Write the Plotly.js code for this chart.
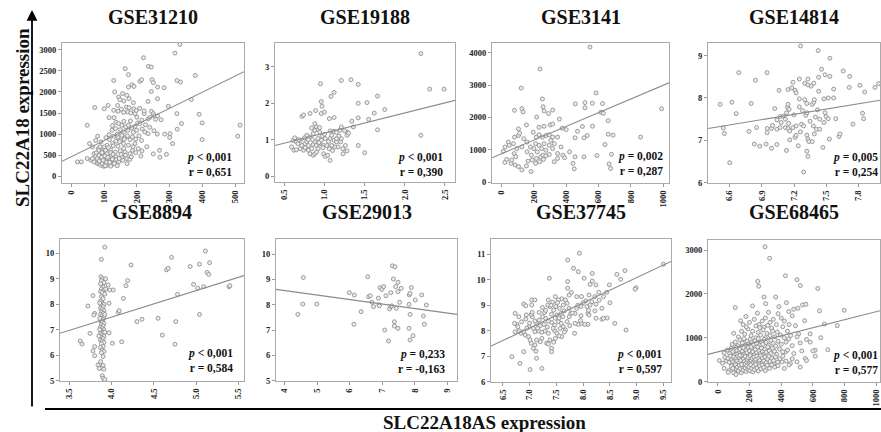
<!DOCTYPE html>
<html><head><meta charset="utf-8">
<script src="https://cdn.plot.ly/plotly-3.0.1.min.js"></script>
<style>html,body{margin:0;padding:0;background:#fff;}#chart{width:881px;height:432px;}</style>
</head><body><div id="chart"></div>
<script>
// ---------------- DATA ----------------
const panelNames = ["GSE31210","GSE19188","GSE3141","GSE14814","GSE8894","GSE29013","GSE37745","GSE68465"];
const pLabels = ["&lt; 0,001","&lt; 0,001","= 0,002","= 0,005","&lt; 0,001","= 0,233","&lt; 0,001","&lt; 0,001"];
const rLabels = ["r = 0,651","r = 0,390","r = 0,287","r = 0,254","r = 0,584","r = -0,163","r = 0,597","r = 0,577"];
const fitIntercept = [466, 0.627, 876, 4.625, 3.334, 9.274, 1.195, 677];
const fitSlope = [3.82, 0.554, 2.12, 0.415, 1.04, -0.178, 0.988, 0.917];
const xTickLabels = [
 ["0","100","200","300","400","500"],
 ["0.5","1.0","1.5","2.0","2.5"],
 ["0","200","400","600","800","1000"],
 ["6.6","6.9","7.2","7.5","7.8"],
 ["3.5","4.0","4.5","5.0","5.5"],
 ["4","5","6","7","8","9"],
 ["6.5","7.0","7.5","8.0","8.5","9.0","9.5"],
 ["0","200","400","600","800","1000"]];
const yTickLabels = [
 ["0","500","1000","1500","2000","2500","3000"],
 ["0","1","2","3"],
 ["0","1000","2000","3000","4000"],
 ["6","7","8","9"],
 ["5","6","7","8","9","10"],
 ["5","6","7","8","9","10"],
 ["6","7","8","9","10","11"],
 ["0","1000","2000","3000"]];

const GSE31210 = [[18,340],[30,340],[48,420],[48,1210],[55,775],[59,380],[64,420],[64,695],[69,340],[69,535],[71,1630],[74,475],[74,850],[76,555],[79,300],[79,420],[80,950],[82,655],[84,315],[84,495],[84,615],[89,260],[89,395],[90,815],[94,300],[94,600],[96,520],[99,235],[99,440],[100,695],[100,1600],[104,340],[104,615],[105,915],[109,260],[109,420],[109,535],[109,735],[112,1680],[114,300],[115,985],[115,1390],[116,870],[119,380],[119,630],[122,495],[124,285],[124,1090],[126,775],[129,950],[129,1565],[129,2270],[130,1390],[132,365],[132,2000],[134,575],[134,1130],[136,460],[136,830],[136,1280],[139,315],[141,1680],[142,710],[142,930],[142,1540],[144,340],[144,1250],[144,1880],[148,1815],[149,600],[149,1105],[150,850],[152,1590],[154,460],[154,970],[154,1210],[156,1960],[159,775],[159,1050],[159,1515],[160,1785],[164,575],[164,915],[164,2550],[166,1170],[168,1640],[169,420],[169,1920],[172,1090],[172,1525],[174,735],[174,1210],[174,2115],[174,2410],[176,1625],[176,1840],[179,535],[179,870],[181,1500],[184,1150],[185,2170],[186,615],[189,1040],[189,1745],[191,2130],[194,775],[194,1185],[194,1485],[199,1090],[202,1265],[204,655],[209,1250],[209,2250],[212,480],[214,850],[214,2290],[220,2810],[222,1485],[224,1050],[234,1010],[234,1360],[234,1775],[235,2605],[244,1540],[244,2010],[244,2590],[246,2290],[250,1485],[250,2220],[254,1435],[257,1350],[263,1430],[263,1840],[263,2115],[269,615],[274,1340],[283,2100],[296,1660],[301,1010],[309,775],[316,2920],[322,1485],[322,2270],[323,1115],[331,3126],[333,2235],[336,1250],[366,1820],[378,2390],[390,1470],[399,870],[399,1265],[508,950],[515,1210],
 [85,360],[92,450],[97,380],[102,480],[107,330],[111,450],[117,330],[120,560],[125,410],[127,520],[131,300],[138,400],[146,420],[151,520],[157,380],[160,660],[165,500],[170,300],[178,400],[183,460],[188,700],[196,560],[140,250],[120,240],[103,250],[93,560],[87,700],[113,680],[128,720],[147,820],[161,880],[171,960],[186,930],[196,880],[206,960],[216,1120],[226,1220],[239,1160],[252,1080],[140,1000],[125,1200],[160,1300],[180,1310],[200,1400],[215,1330],[240,1400],[262,1000],[285,1000],[300,920],[230,700],[215,600],[250,530],[270,450],[290,520],[208,1610],[222,1550],[190,1600],[198,1560]];

const GSE19188 = [[0.59,0.80],[0.61,0.98],[0.62,0.71],[0.63,1.05],[0.65,0.72],[0.65,0.94],[0.67,0.89],[0.70,0.75],[0.70,0.98],[0.72,0.84],[0.72,1.64],[0.74,0.71],[0.74,1.68],[0.76,0.78],[0.76,0.89],[0.78,1.12],[0.80,0.71],[0.80,0.84],[0.82,0.61],[0.82,1.07],[0.82,1.72],[0.84,0.75],[0.84,1.32],[0.86,0.57],[0.86,0.87],[0.86,1.17],[0.88,0.61],[0.88,0.94],[0.88,1.26],[0.88,1.44],[0.89,1.80],[0.90,0.66],[0.90,0.84],[0.90,1.35],[0.92,0.75],[0.92,1.03],[0.92,1.28],[0.94,0.89],[0.94,1.21],[0.94,1.33],[0.95,2.54],[0.96,0.98],[0.96,1.72],[0.96,2.05],[0.97,1.92],[0.99,0.61],[0.99,0.84],[1.00,1.76],[1.01,0.54],[1.01,1.03],[1.03,0.84],[1.04,0.57],[1.06,0.75],[1.06,1.58],[1.07,0.43],[1.07,1.03],[1.07,1.24],[1.08,2.19],[1.09,0.84],[1.09,1.12],[1.12,0.98],[1.12,1.23],[1.12,1.61],[1.12,2.30],[1.13,0.80],[1.15,0.94],[1.15,1.03],[1.17,0.80],[1.19,1.26],[1.20,0.94],[1.21,1.03],[1.21,1.35],[1.21,2.63],[1.23,0.61],[1.23,0.75],[1.26,0.84],[1.28,0.69],[1.28,1.12],[1.28,1.21],[1.33,2.65],[1.34,1.51],[1.36,1.35],[1.42,2.52],[1.42,2.00],[1.42,1.60],[1.42,0.84],[1.50,0.64],[1.53,2.02],[1.55,1.56],[1.62,1.73],[1.66,2.20],[1.66,1.27],[1.75,1.83],[2.20,3.37],[2.20,1.12],[2.31,2.39],[2.49,2.39],[0.97,1.10],[1.00,1.15],[1.05,0.95],[0.85,1.00],[0.78,0.95],[0.80,1.00],[0.75,1.05],[0.68,1.00],[0.93,0.92],[0.98,0.78],[1.10,0.70],[1.18,1.10],[1.25,1.25],[1.30,1.18],[1.15,1.20]];

const GSE3141 = [[11,954],[21,609],[21,1086],[32,700],[42,1238],[48,1137],[59,579],[63,680],[74,1188],[78,883],[80,1391],[80,2220],[84,528],[88,782],[95,1035],[105,477],[105,1441],[105,1645],[112,1512],[122,2910],[126,376],[126,1086],[126,2274],[133,2172],[137,1340],[154,497],[154,1767],[158,934],[158,1238],[164,650],[179,1086],[183,325],[185,832],[190,680],[196,1543],[200,1035],[211,579],[211,1188],[215,731],[215,1391],[217,2010],[221,934],[232,1137],[232,1462],[232,1695],[236,629],[238,3500],[242,782],[248,1035],[253,1391],[253,2570],[257,832],[257,2330],[259,700],[263,1188],[263,1726],[263,2200],[274,812],[274,985],[274,1441],[291,2121],[295,853],[295,1137],[295,1462],[301,1767],[305,1289],[316,1035],[316,1391],[316,1797],[316,2230],[326,629],[326,1188],[347,731],[347,883],[347,1391],[358,1949],[368,1086],[375,1665],[379,832],[390,751],[400,1624],[421,934],[442,579],[450,410],[457,2420],[516,2460],[516,2300],[562,2440],[625,2430],[585,2760],[615,2160],[630,2130],[563,1730],[500,1720],[470,1570],[455,1370],[510,1370],[530,1440],[455,780],[510,780],[590,820],[660,1900],[660,1480],[690,1450],[640,1160],[665,560],[675,420],[680,860],[860,1390],[990,2270],[547,4180]];

const GSE14814 = [[6.54,7.29],[6.55,7.16],[6.51,7.85],[6.62,7.90],[6.66,7.63],[6.60,6.47],[6.684,8.60],[6.80,7.87],[6.78,7.21],[6.84,8.42],[6.85,7.30],[6.83,6.91],[6.88,6.86],[6.94,6.91],[6.95,7.28],[6.95,7.18],[6.949,8.60],[6.99,7.28],[6.99,6.81],[7.02,7.75],[7.04,7.26],[7.04,6.90],[7.04,7.48],[7.06,8.18],[7.07,7.30],[7.07,7.56],[7.08,7.42],[7.10,7.57],[7.12,7.50],[7.12,7.30],[7.13,7.65],[7.13,6.76],[7.14,7.78],[7.145,7.85],[7.145,8.20],[7.145,7.28],[7.155,7.73],[7.16,7.22],[7.16,7.01],[7.18,8.24],[7.19,8.37],[7.19,7.30],[7.21,8.18],[7.21,7.07],[7.22,8.12],[7.22,7.34],[7.22,7.12],[7.24,6.87],[7.25,8.45],[7.25,7.98],[7.25,7.79],[7.261,9.23],[7.27,7.38],[7.29,7.34],[7.29,6.25],[7.30,8.35],[7.30,7.96],[7.31,7.59],[7.32,7.87],[7.32,7.65],[7.32,7.12],[7.32,6.74],[7.33,8.45],[7.33,8.31],[7.33,7.03],[7.33,6.62],[7.34,6.97],[7.36,8.28],[7.37,7.85],[7.37,6.97],[7.38,7.34],[7.385,8.35],[7.385,7.90],[7.39,7.96],[7.39,7.15],[7.41,7.26],[7.426,9.12],[7.43,8.49],[7.43,8.16],[7.44,7.50],[7.44,7.26],[7.457,8.68],[7.47,6.83],[7.48,7.98],[7.48,7.42],[7.49,8.55],[7.49,7.65],[7.50,7.56],[7.52,8.00],[7.52,7.51],[7.53,7.03],[7.535,8.94],[7.535,8.51],[7.57,8.21],[7.57,8.00],[7.59,7.51],[7.62,7.09],[7.63,7.15],[7.66,8.64],[7.716,8.25],[7.72,8.51],[7.75,7.38],[7.815,8.30],[7.84,7.64],[7.85,7.51],[7.86,8.14],[7.956,8.25],[7.99,8.34],[7.20,7.60],[7.28,7.70],[7.40,7.55],[7.35,7.45],[7.15,7.40],[7.00,7.35],[7.26,7.20],[7.42,7.72]];

const GSE8894 = [[3.92,10.24],[3.88,9.76],[3.875,9.08],[3.89,9.0],[3.88,8.92],[3.91,8.85],[3.87,8.8],[3.9,8.68],[3.88,8.6],[3.91,8.55],[3.87,8.5],[3.89,8.45],[3.92,8.4],[3.88,8.3],[3.9,8.22],[3.87,8.12],[3.89,8.05],[3.91,8.0],[3.88,7.95],[3.9,7.9],[3.87,7.85],[3.89,7.8],[3.91,7.75],[3.88,7.7],[3.9,7.65],[3.87,7.6],[3.89,7.55],[3.91,7.5],[3.88,7.45],[3.9,7.4],[3.87,7.35],[3.89,7.3],[3.91,7.25],[3.88,7.2],[3.9,7.15],[3.87,7.1],[3.89,7.05],[3.91,7.0],[3.88,6.95],[3.9,6.9],[3.87,6.85],[3.89,6.8],[3.91,6.75],[3.88,6.7],[3.9,6.65],[3.87,6.6],[3.89,6.55],[3.91,6.5],[3.88,6.45],[3.9,6.35],[3.87,6.3],[3.89,6.2],[3.91,6.15],[3.88,6.1],[3.9,5.95],[3.87,5.75],[3.9,5.6],[3.88,5.5],[3.91,5.45],[3.89,5.2],[3.9,5.1],[3.92,5.05],[3.86,7.0],[3.86,7.45],[3.86,8.05],[3.92,7.6],[3.92,6.9],[3.93,8.6],[3.93,9.0],[3.85,6.75],
 [3.63,6.56],[3.65,6.44],[3.72,7.93],[3.78,8.34],[3.80,7.64],[3.79,7.58],[3.745,6.86],[3.78,6.17],[3.80,5.98],[3.80,6.34],[3.84,5.62],[3.855,5.48],[3.96,8.76],[3.98,8.56],[4.02,8.56],[3.97,8.04],[3.97,6.88],[4.01,6.47],[4.12,6.53],[4.08,7.68],[4.09,7.75],[4.14,8.23],[4.17,8.73],[4.19,8.93],[4.23,9.54],[4.30,7.32],[4.36,7.41],[4.55,7.45],[4.60,6.79],[4.76,7.32],[4.75,6.43],[4.65,9.35],[4.67,9.41],[4.71,9.84],[4.78,8.39],[4.93,9.48],[4.97,8.78],[5.02,8.63],[5.04,9.57],[5.09,8.69],[5.11,10.09],[5.13,9.25],[5.15,9.17],[5.16,9.63],[5.04,7.60],[5.39,8.69],[5.40,8.73]];

const GSE29013 = [[4.41,7.62],[4.56,8.03],[4.58,9.08],[4.99,8.03],[5.99,8.48],[6.14,8.39],[6.13,7.23],[6.35,7.73],[6.55,9.11],[6.58,8.32],[6.63,8.36],[6.68,8.10],[6.73,7.93],[6.88,8.26],[6.90,8.00],[6.91,7.96],[6.93,8.68],[6.99,8.61],[7.04,8.72],[7.07,7.00],[7.11,8.36],[7.19,6.57],[7.22,7.84],[7.26,7.93],[7.26,8.48],[7.29,7.96],[7.31,9.54],[7.39,9.50],[7.34,9.02],[7.37,7.33],[7.37,7.16],[7.41,8.72],[7.43,7.86],[7.48,8.89],[7.48,8.52],[7.48,7.07],[7.53,8.10],[7.58,8.65],[7.82,7.07],[7.82,8.02],[7.83,8.39],[7.85,8.45],[7.85,6.61],[7.85,7.62],[7.89,8.68],[7.94,6.78],[8.01,8.19],[8.21,8.39],[8.26,7.56],[8.29,7.23],[8.35,7.99]];

const GSE37745 = [[7.71,10.78],[7.93,11.04],[7.82,10.45],[7.91,10.32],[8.02,10.06],[8.17,10.25],[8.13,9.82],[8.17,9.95],[8.63,10.21],[8.70,10.02],[8.78,10.36],[8.49,9.80],[8.44,9.51],[8.99,9.69],[8.97,9.63],[9.50,10.61],[7.37,10.06],[7.71,9.93],[7.71,9.67],[7.78,9.50],[7.74,9.40],[7.88,9.34],[7.97,9.34],[8.05,9.17],[8.11,9.40],[8.16,9.14],[8.22,9.34],[8.24,9.04],[8.13,9.01],[8.07,8.95],[8.09,8.68],[8.11,8.62],[8.22,8.78],[8.24,8.49],[8.35,8.88],[8.35,8.45],[8.38,8.49],[8.09,8.25],[7.91,8.25],[7.85,8.29],[7.84,7.90],[7.96,8.59],[7.77,8.68],[7.74,8.88],[7.70,9.08],[7.67,9.21],[7.60,9.25],[7.54,9.21],[7.48,9.34],[7.43,9.12],[7.49,8.95],[7.56,8.88],[7.63,9.01],[7.65,8.78],[7.59,8.68],[7.51,8.62],[7.45,8.81],[7.38,8.95],[7.35,9.21],[7.34,9.01],[7.41,8.65],[7.48,8.49],[7.54,8.36],[7.59,8.29],[7.63,8.16],[7.57,8.09],[7.47,8.22],[7.41,8.33],[7.35,8.38],[7.30,8.49],[7.24,8.55],[7.18,8.42],[7.13,8.29],[7.10,8.38],[7.05,8.55],[7.03,8.64],[7.05,8.72],[6.94,8.62],[6.93,8.46],[7.04,9.21],[7.10,9.21],[7.04,9.01],[6.89,9.05],[6.93,8.98],[6.73,8.68],[6.76,8.25],[6.78,8.16],[6.73,7.96],[6.81,7.99],[6.84,7.90],[6.89,7.96],[6.92,7.83],[6.99,8.16],[7.07,8.09],[7.10,7.96],[7.17,7.99],[7.23,7.94],[7.29,7.99],[7.35,7.90],[7.47,7.99],[7.51,7.90],[7.48,7.70],[7.38,7.64],[7.32,7.51],[7.35,7.48],[7.41,7.31],[7.41,7.18],[7.23,7.70],[7.20,7.57],[7.13,7.64],[7.10,7.44],[7.07,7.31],[7.12,7.20],[7.03,7.51],[6.98,7.77],[7.01,7.64],[6.89,7.18],[6.67,6.98],[6.82,6.72],[7.01,6.48],[7.23,6.52],[7.13,6.92],[7.60,7.77],[7.67,8.03],[7.70,8.36],[7.74,8.55],[7.85,8.68],[7.88,8.88],[7.96,8.95],[7.97,8.29],[8.03,8.25],[8.59,8.29],[8.80,8.03],[8.38,9.34],[8.29,9.51],[8.24,9.80],[6.72,8.29],[7.24,8.91],[7.18,8.72],[7.28,8.72],[7.20,8.20],[7.27,8.25],[7.33,8.15],[7.44,8.10],[7.55,8.50],[7.62,8.55],[7.15,8.10],[7.00,8.30],[6.95,8.10],[7.30,8.80],[7.40,9.00],[7.52,9.10],[7.80,8.70],[7.90,9.00],[8.00,9.10],[8.30,9.20],[8.45,8.50],[8.50,9.10],[8.10,8.80],[7.95,8.40],[7.75,8.20],[7.65,7.95],[7.55,7.80],[7.45,7.55],[6.85,8.35],[6.80,8.55]];

const GSE68465 = [[298,3075],[327,2813],[252,2288],[258,2175],[427,2415],[500,2325],[521,2190],[631,2123],[798,1628],[642,1613],[673,1313],[754,1275],[535,1748],[556,1763],[548,1388],[110,1688],[144,1388],[177,1485],[219,1725],[292,1928],[302,1778],[365,1928],[386,1710],[433,1800],[448,1598],[479,1650],[506,1673],[490,1275],[510,1088],[583,1088],[615,713],[694,728],[615,578],[583,900],[552,525],[448,975],[427,675],[406,450],[458,413],[354,413],[600,700],
 [160,1300],[200,1350],[230,1420],[260,1300],[280,1380],[300,1450],[330,1350],[350,1420],[370,1300],[400,1450],[420,1380],[450,1300],[470,1500],[380,1550],[320,1580],[250,1560],[290,1240],[240,1270],[340,1220],[410,1250],
 [100,1100],[130,1020],[150,1150],[170,1080],[190,1200],[210,1050],[220,1150],[240,1000],[255,1120],[270,1060],[285,1180],[300,1000],[310,1100],[330,1050],[345,1150],[360,1020],[375,1130],[395,1060],[420,1000],[440,1150],[460,1050],[500,1020],[180,1250],[315,1280],[265,1230],
 [90,850],[110,900],[125,820],[140,950],[155,880],[165,980],[175,830],[185,920],[195,860],[205,960],[215,900],[225,840],[235,930],[245,870],[255,980],[265,820],[275,910],[285,850],[295,960],[305,890],[320,830],[335,940],[350,870],[365,810],[380,920],[400,850],[430,900],[470,820],[520,880],[560,960],[650,1000],[200,800],[150,800],
 [40,650],[60,720],[75,640],[85,760],[95,680],[105,610],[115,780],[120,700],[130,650],[140,740],[148,620],[155,690],[162,770],[170,640],[178,720],[185,660],[192,780],[200,700],[208,630],[215,750],[222,680],[230,610],[238,730],[245,660],[252,790],[260,700],[268,640],[275,760],[283,680],[290,620],[298,740],[306,670],[315,790],[325,700],[335,640],[345,760],[358,690],[372,620],[390,740],[410,680],[440,720],[480,640],[530,700],[120,620],[165,610],[210,790],[280,600],
 [10,480],[30,420],[45,550],[55,470],[65,530],[72,440],[80,580],[88,500],[95,450],[100,560],[108,410],[114,520],[120,470],[126,580],[132,430],[138,540],[144,480],[150,590],[156,410],[162,520],[168,460],[174,570],[180,430],[186,500],[192,550],[198,440],[204,590],[210,480],[216,530],[222,420],[228,560],[234,470],[240,510],[246,580],[252,440],[258,530],[264,480],[270,590],[276,420],[282,540],[290,470],[298,560],[306,430],[314,510],[322,580],[330,460],[340,530],[352,480],[364,560],[378,440],[392,520],[410,580],[430,470],[470,520],[500,450],[560,480],[140,600],[200,400],[260,400],
 [40,300],[70,250],[85,350],[95,300],[105,220],[112,380],[118,280],[124,330],[130,240],[136,370],[142,300],[148,200],[154,350],[160,260],[166,390],[172,310],[178,230],[184,360],[190,280],[196,330],[202,250],[208,380],[214,300],[220,220],[226,350],[232,270],[240,390],[248,310],[256,240],[264,360],[272,290],[280,380],[290,320],[300,250],[312,370],[326,300],[340,380],[360,330],[380,360],[420,300],[450,380],[520,330],[150,390],[100,200],[115,160],[65,210]];

const panelData = [GSE31210, GSE19188, GSE3141, GSE14814, GSE8894, GSE29013, GSE37745, GSE68465];

// ---------------- LAYOUT (positions in px) ----------------
const W = 881, H = 432;
const boxes = [[62,244,43,183],[275,455,43,182],[492,669,43,183],[708,880,43,183],
               [60,244,239,381],[276,457,239,381],[491,671,239,382],[708,880,240,382]];
const xRanges = [[-29,527],[0.384,2.625],[-59,1036],[6.397,8.003],[3.39,5.567],[3.74,9.29],[6.28,9.64],[-62,1024]];
const yRanges = [[-160,3160],[-0.165,3.66],[-30,4305],[5.99,9.30],[4.99,10.56],[4.99,10.6],[5.99,11.6],[-10,3230]];
const prPos = [[234,164.5],[445,164.5],[665,163],[880,164],[235,360],[447,361],[664,361],[880,362]];
const titleY = [17,17,17,17,212,212,212,212];

const serif = "Liberation Serif, Times New Roman, serif";
const traces = [], annotations = [], shapes = [];
const layout = {width:W, height:H, margin:{l:0,r:0,t:0,b:0}, showlegend:false,
  paper_bgcolor:'#fff', plot_bgcolor:'#fff'};

panelData.forEach((pts, i) => {
  const sfx = i === 0 ? '' : String(i+1);
  const [l, r, t, b] = boxes[i];
  const xt = xTickLabels[i].map(Number), yt = yTickLabels[i].map(Number);
  const axBase = {showline:true, mirror:true, linecolor:'#aaaaaa', linewidth:1, showgrid:false, zeroline:false,
    ticks:'outside', ticklen:3, tickcolor:'#999', tickwidth:1, ticklabeloverflow:'allow',
    tickfont:{family:serif, size:8.5, color:'#222', weight:'bold'}, fixedrange:true};
  layout['xaxis'+sfx] = Object.assign({}, axBase, {domain:[l/W, r/W], range:xRanges[i], anchor:'y'+sfx,
    tickmode:'array', tickvals:xt, ticktext:xTickLabels[i], tickangle:-90});
  layout['yaxis'+sfx] = Object.assign({}, axBase, {domain:[1-b/H, 1-t/H], range:yRanges[i], anchor:'x'+sfx,
    tickmode:'array', tickvals:yt, ticktext:yTickLabels[i]});
  traces.push({type:'scatter', mode:'markers', xaxis:'x'+sfx, yaxis:'y'+sfx,
    x:pts.map(p=>p[0]), y:pts.map(p=>p[1]), hoverinfo:'skip',
    marker:{symbol:'circle', size:4, color:'#ececec', line:{color:'#858585', width:0.8}}});
  const lx = xRanges[i];
  traces.push({type:'scatter', mode:'lines', xaxis:'x'+sfx, yaxis:'y'+sfx, hoverinfo:'skip',
    x:lx, y:lx.map(v => fitIntercept[i] + fitSlope[i]*v), line:{color:'#8a8a8a', width:1.1}, cliponaxis:true});
  annotations.push({xref:'paper', yref:'paper', x:(l+r)/2/W, y:1-titleY[i]/H, text:'<b>'+panelNames[i]+'</b>',
    showarrow:false, xanchor:'center', yanchor:'middle', font:{family:serif, size:20, color:'#111'}});
  const [px, py] = prPos[i];
  annotations.push({xref:'paper', yref:'paper', x:px/W, y:1-py/H,
    text:'<b><i>p</i> '+pLabels[i]+'</b><br><b>'+rLabels[i]+'</b>', align:'right',
    showarrow:false, xanchor:'right', yanchor:'middle', font:{family:serif, size:11.5, color:'#111'}});
});

// axis titles
annotations.push({xref:'paper', yref:'paper', x:22/W, y:1-118/H, text:'<b>SLC22A18 expression</b>', textangle:-90,
  showarrow:false, xanchor:'center', yanchor:'middle', font:{family:serif, size:19, color:'#111'}});
annotations.push({xref:'paper', yref:'paper', x:484/W, y:1-422/H, text:'<b>SLC22A18AS expression</b>',
  showarrow:false, xanchor:'center', yanchor:'middle', font:{family:serif, size:19, color:'#111'}});
// arrow
annotations.push({xref:'paper', yref:'paper', x:32/W, y:1-10/H, ax:0, ay:398, axref:'pixel', ayref:'pixel',
  text:'', showarrow:true, arrowhead:2, arrowsize:1.2, arrowwidth:1.8, arrowcolor:'#000', standoff:0});
shapes.push({type:'line', xref:'paper', yref:'paper', x0:45/W, x1:1, y0:1-409/H, y1:1-409/H, line:{color:'#000', width:2.2}});

layout.annotations = annotations;
layout.shapes = shapes;
Plotly.newPlot('chart', traces, layout, {displayModeBar:false, staticPlot:true});
</script></body></html>
